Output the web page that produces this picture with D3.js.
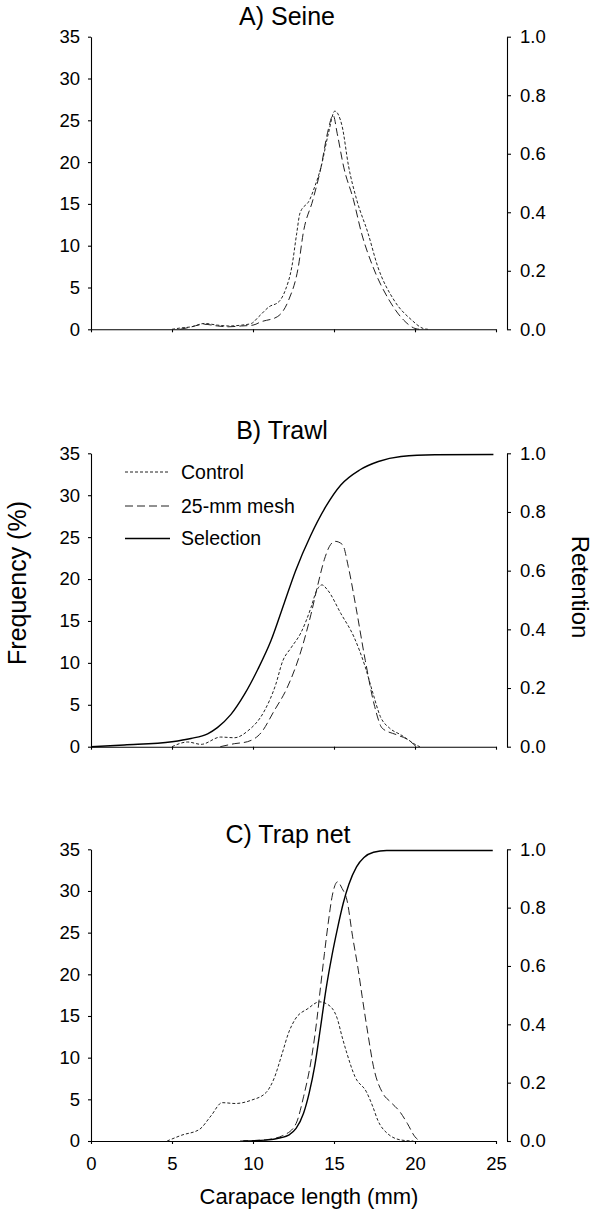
<!DOCTYPE html>
<html>
<head>
<meta charset="utf-8">
<script src="https://cdn.jsdelivr.net/npm/d3@7"></script>
<style>
  html, body { margin: 0; padding: 0; background: #fff; }
  svg { display: block; font-family: "Liberation Sans", Arial, Helvetica, sans-serif; }
</style>
</head>
<body>
<svg id="chart" width="594" height="1212"></svg>
<script>
// ---------------- DATA ----------------
const lengthTicks = [0, 5, 10, 15, 20, 25];
const frequencyTicks = [0, 5, 10, 15, 20, 25, 30, 35];
const retentionTicks = [0, 0.2, 0.4, 0.6, 0.8, 1.0];
const panelTitles = ["A) Seine", "B) Trawl", "C) Trap net"];
const seriesNames = ["Control", "25-mm mesh", "Selection"];

// [carapace length (mm), frequency (%)]
const seineControl = [[5.0,0],[5.5,0.15],[6.2,0.3],[7.0,0.7],[7.8,0.5],[8.5,0.4],[9.3,0.5],[9.9,0.7],[10.35,1.5],[11.0,2.7],[11.6,3.3],[12.0,4.7],[12.4,7.5],[12.7,11.5],[12.9,13.9],[13.5,15.5],[13.8,17],[14.2,19.4],[14.65,23.4],[15.05,26.1],[15.5,24.3],[15.9,19.5],[16.4,15.5],[17.1,11.5],[17.7,7.5],[18.7,3.5],[19.8,1.1],[20.5,0.1],[20.8,0]];
const seineMesh = [[5.5,0],[6.0,0.2],[7.0,0.6],[7.8,0.4],[8.5,0.3],[9.3,0.4],[10.0,0.5],[10.5,0.9],[11.5,1.5],[12.2,3.5],[12.8,7.5],[13.1,11.5],[13.7,15.5],[14.2,19.4],[14.6,23.5],[14.95,25.6],[15.2,23.4],[15.6,19.4],[16.2,15.5],[16.7,11.5],[17.4,7.5],[18.4,3.5],[19.3,1.1],[20.0,0.1],[20.3,0]];

const trawlControl = [[5.0,0],[5.97,0.56],[6.8,0.28],[8.0,1.15],[8.85,1.07],[9.67,1.87],[10.7,4.26],[11.4,7.4],[11.83,10.2],[12.35,11.8],[12.96,13.6],[13.58,16.6],[13.9,18.5],[14.26,19.3],[14.6,18.7],[15.42,15.9],[16.23,13.1],[16.93,9.5],[17.4,6.4],[17.86,3.6],[18.44,2.2],[19.14,1.4],[19.6,0.8],[20.07,0.2],[20.3,0]];
const trawlMesh = [[7.98,0],[8.85,0.36],[9.67,0.6],[10.5,1.67],[11.3,4.26],[12.1,7.0],[12.96,11.4],[13.58,15.8],[14.0,19.3],[14.4,22.3],[14.72,23.9],[15.07,24.5],[15.53,24.1],[15.88,21.5],[16.35,16.7],[16.93,10.3],[17.51,4.8],[17.98,2.2],[18.9,1.4],[19.6,0.8],[20.07,0]];
// [carapace length (mm), retention]
const trawlSelection = [[0,0],[2.06,0.006],[5.0,0.017],[6.17,0.028],[7.2,0.044],[7.8,0.065],[8.64,0.11],[9.47,0.178],[10.3,0.264],[11.1,0.36],[11.93,0.49],[12.63,0.6],[13.56,0.72],[14.49,0.818],[15.42,0.892],[16.58,0.943],[17.74,0.972],[19.14,0.989],[21.23,0.995],[24.84,0.996]];

const trapControl = [[4.7,0],[5.6,0.7],[6.7,1.4],[7.4,3.0],[8.1,4.6],[8.9,4.5],[9.9,4.9],[10.8,5.8],[11.3,7.5],[11.8,10.5],[12.2,13],[12.6,14.6],[13.4,15.9],[14.1,16.7],[14.6,16.4],[15.2,14.7],[15.5,12.5],[15.8,10.5],[16.3,7.7],[17.0,5.9],[17.4,4.1],[17.7,2.5],[18.3,0.9],[19.2,0.1],[19.9,0]];
const trapMesh = [[9.2,0],[10.8,0.15],[12.0,0.8],[12.66,2.1],[13.12,5.3],[13.59,9.7],[13.94,14.5],[14.17,18.5],[14.41,22.5],[14.64,26.1],[14.9,29.5],[15.22,31.1],[15.5,30.3],[15.8,28.9],[16.15,24.5],[16.5,20.5],[16.74,17.3],[17.09,12.9],[17.44,8.9],[18.02,5.7],[18.48,4.7],[19.07,3.5],[19.53,2.1],[20.0,0.5],[20.3,0]];
const trapSelection = [[9.4,0],[10.8,0.003],[11.7,0.011],[12.2,0.02],[12.66,0.043],[13.12,0.095],[13.47,0.165],[13.82,0.26],[14.17,0.39],[14.52,0.525],[14.87,0.635],[15.22,0.73],[15.57,0.815],[15.92,0.88],[16.39,0.94],[16.85,0.972],[17.44,0.99],[18.25,0.996],[24.8,0.996]];

// ---------------- LAYOUT ----------------
const plotLeft = 91, plotRight = 496, rightAxisX = 507;
const panels = [
  { title: panelTitles[0], top: 36.7, bottom: 329.3, titleX: 287, titleY: 25, control: seineControl, mesh: seineMesh, selection: null, xLabels: false },
  { title: panelTitles[1], top: 453.3, bottom: 746.7, titleX: 282, titleY: 439, control: trawlControl, mesh: trawlMesh, selection: trawlSelection, xLabels: false, legend: true },
  { title: panelTitles[2], top: 849.3, bottom: 1141, titleX: 288, titleY: 843, control: trapControl, mesh: trapMesh, selection: trapSelection, xLabels: true }
];
const styles = {
  control: { dash: "3,2", width: 1, color: "#222" },
  mesh: { dash: "8,4", width: 1, color: "#222" },
  selection: { dash: null, width: 1.4, color: "#000" }
};

const svg = d3.select("#chart");
const x = d3.scaleLinear().domain([0, 25]).range([plotLeft, plotRight]);
const tickFont = 18.5;

panels.forEach(p => {
  const yF = d3.scaleLinear().domain([0, 35]).range([p.bottom, p.top]);
  const yR = d3.scaleLinear().domain([0, 1]).range([p.bottom, p.top]);
  const g = svg.append("g");

  g.append("text").attr("x", p.titleX).attr("y", p.titleY)
    .attr("text-anchor", "middle").attr("font-size", 25).text(p.title);

  const xa = d3.axisBottom(x).tickValues(lengthTicks).tickSize(3).tickSizeOuter(0).tickPadding(12.5)
    .tickFormat(p.xLabels ? d3.format("d") : () => "");
  g.append("g").attr("transform", `translate(0,${p.bottom})`).call(xa);

  const la = d3.axisLeft(yF).tickValues(frequencyTicks).tickSize(3).tickSizeOuter(0).tickPadding(8);
  g.append("g").attr("transform", `translate(${plotLeft},0)`).call(la);

  const ra = d3.axisRight(yR).tickValues(retentionTicks).tickSize(4).tickSizeOuter(0).tickPadding(9)
    .tickFormat(d3.format(".1f"));
  g.append("g").attr("transform", `translate(${rightAxisX},0)`).call(ra);

  g.selectAll(".domain, .tick line").attr("stroke", "#000").attr("stroke-width", 1.1);
  g.selectAll(".tick text").attr("font-size", tickFont).attr("fill", "#000")
    .attr("font-family", "'Liberation Sans', Arial, sans-serif");

  const lineF = d3.line().x(d => x(d[0])).y(d => yF(d[1])).curve(d3.curveMonotoneX);
  const lineR = d3.line().x(d => x(d[0])).y(d => yR(d[1])).curve(d3.curveMonotoneX);

  const draw = (data, gen, st) => {
    g.append("path").datum(data).attr("d", gen).attr("fill", "none")
      .attr("stroke", st.color).attr("stroke-width", st.width)
      .attr("stroke-dasharray", st.dash);
  };
  draw(p.control, lineF, styles.control);
  draw(p.mesh, lineF, styles.mesh);
  if (p.selection) draw(p.selection, lineR, styles.selection);

  if (p.legend) {
    const keys = ["control", "mesh", "selection"];
    const ys = [472, 506, 538.5];
    keys.forEach((k, i) => {
      const st = styles[k];
      g.append("line").attr("x1", 125).attr("x2", 170).attr("y1", ys[i]).attr("y2", ys[i])
        .attr("stroke", st.color).attr("stroke-width", st.width).attr("stroke-dasharray", st.dash);
      g.append("text").attr("x", 181).attr("y", ys[i] + 6.5).attr("font-size", 19.5).text(seriesNames[i]);
    });
  }
});

svg.append("text").attr("transform", "translate(26,583) rotate(-90)")
  .attr("text-anchor", "middle").attr("font-size", 25).text("Frequency (%)");
svg.append("text").attr("transform", "translate(572,587) rotate(90)")
  .attr("text-anchor", "middle").attr("font-size", 24).text("Retention");
svg.append("text").attr("x", 309).attr("y", 1204)
  .attr("text-anchor", "middle").attr("font-size", 22).text("Carapace length (mm)");
</script>
</body>
</html>
